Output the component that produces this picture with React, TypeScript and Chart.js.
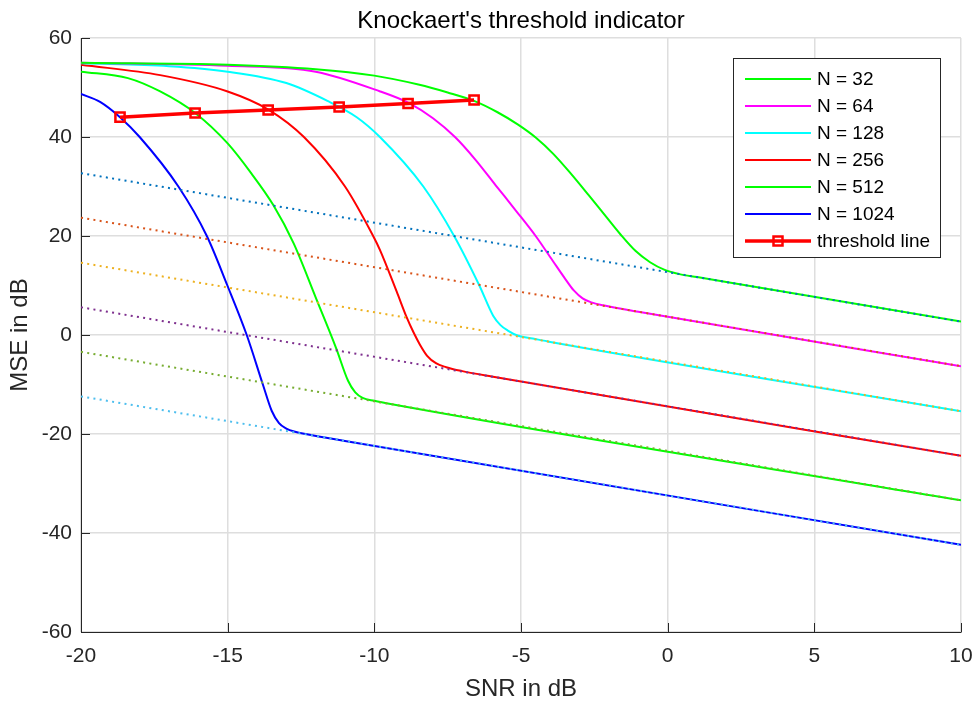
import React, { useEffect, useRef } from 'react';
import { Chart, registerables } from 'chart.js';

Chart.register(...registerables);

// ---------- text ----------
const TITLE = "Knockaert's threshold indicator";
const X_LABEL = 'SNR in dB';
const Y_LABEL = 'MSE in dB';
const X_TICKS = [-20, -15, -10, -5, 0, 5, 10];
const Y_TICKS = [-60, -40, -20, 0, 20, 40, 60];

// ---------- series (solid MSE curves) ----------
const seriesNames = ['N = 32', 'N = 64', 'N = 128', 'N = 256', 'N = 512', 'N = 1024'];
const seriesColors = ['#00ff00', '#ff00ff', '#00ffff', '#ff0000', '#00ff00', '#0000ff'];

const snr32 = [-20, -15, -12, -10, -8.5, -7.5, -6.6, -5.8, -5.1, -4.5, -3.9, -3.3, -2.7, -2.1, -1.62, -1.1, -0.6, -0.1, 0.4, 1.0, 2.0, 10];
const mse32 = [55.0, 54.6, 53.7, 52.4, 50.6, 49.0, 47.3, 45.0, 42.5, 39.9, 36.6, 32.6, 28.3, 23.9, 20.4, 17.0, 14.7, 13.15, 12.3, 11.7, 10.7, 2.7];

const snr64 = [-20, -15, -12, -9.8, -8.8, -8.0, -7.25, -6.55, -5.87, -5.17, -4.5, -3.92, -3.5, -3.2, -2.9, -2.6, -2.2, -1.0, 10];
const mse64 = [55.0, 54.4, 53.2, 49.2, 46.8, 43.8, 40.0, 35.4, 30.3, 25.1, 20.0, 15.0, 11.4, 9.0, 7.4, 6.6, 6.0, 4.7, -6.3];

const snr128 = [-20, -17, -15, -13, -11.6, -10.6, -9.81, -8.33, -7.28, -6.42, -5.95, -5.7, -5.45, -5.1, -4.6, -4.0, 10];
const mse128 = [54.9, 54.3, 53.2, 50.9, 47.3, 44.0, 40.0, 30.0, 20.0, 10.0, 3.9, 2.0, 0.9, -0.15, -0.72, -1.4, -15.4];

const snr256 = [-20, -17.3, -15.0, -13.6, -12.4, -11.0, -10.04, -9.81, -9.24, -8.9, -8.67, -8.45, -8.2, -7.9, -7.55, -7.0, -6.0, 10];
const mse256 = [54.6, 52.5, 49.2, 45.5, 40.0, 30.0, 20.0, 17.2, 8.8, 3.6, 0.6, -1.9, -4.2, -5.7, -6.5, -7.3, -8.4, -24.4];

const snr512 = [-20, -18.4, -17.3, -16.1, -15.0, -14.2, -13.45, -12.75, -12.0, -11.3, -10.9, -10.65, -10.4, -10.0, -9.4, 10];
const mse512 = [53.2, 51.9, 49.2, 44.8, 38.7, 32.7, 26.3, 18.5, 7.6, -2.7, -9.2, -11.6, -12.7, -13.3, -14.0, -33.4];

const snr1024 = [-20, -19.35, -18.67, -18.0, -16.68, -15.71, -15.01, -14.35, -13.8, -13.5, -13.25, -13.0, -12.7, -12.3, -11.0, 10];
const mse1024 = [48.7, 47.1, 44.0, 40.0, 30.0, 20.0, 10.0, 0.0, -10.0, -15.3, -17.8, -18.9, -19.55, -20.05, -21.4, -42.4];

const solidSnr = [snr32, snr64, snr128, snr256, snr512, snr1024];
const solidMse = [mse32, mse64, mse128, mse256, mse512, mse1024];

// ---------- dotted CRB lines ----------
const crbSnr = [-20, 10];
const crb32 = [32.7, 2.7];
const crb64 = [23.7, -6.3];
const crb128 = [14.6, -15.4];
const crb256 = [5.6, -24.4];
const crb512 = [-3.4, -33.4];
const crb1024 = [-12.4, -42.4];
const crbMse = [crb32, crb64, crb128, crb256, crb512, crb1024];
const crbColors = ['#0072BD', '#D95319', '#EDB120', '#7E2F8E', '#77AC30', '#4DBEEE'];

// ---------- threshold line ----------
const thresholdName = 'threshold line';
const thresholdSnr = [-18.67, -16.11, -13.62, -11.2, -8.85, -6.6];
const thresholdMse = [44.0, 44.85, 45.45, 46.06, 46.77, 47.47];

const FONT = "'Liberation Sans', Arial, Helvetica, sans-serif";
const AXIS_COLOR = '#262626';
const GRID_COLOR = '#dedede';

const toXY = (xs: number[], ys: number[]) => xs.map((x, i) => ({ x, y: ys[i] }));

const overlayPlugin = {
  id: 'overlay',
  afterDraw(chart: any) {
    const { ctx, chartArea, scales } = chart;
    const xs = scales.x;
    const ys = scales.y;
    ctx.save();
    // inward tick marks
    ctx.strokeStyle = AXIS_COLOR;
    ctx.lineWidth = 1;
    ctx.beginPath();
    X_TICKS.forEach((v) => {
      const px = Math.round(xs.getPixelForValue(v)) + 0.5;
      ctx.moveTo(px, chartArea.bottom);
      ctx.lineTo(px, chartArea.bottom - 9);
    });
    Y_TICKS.forEach((v) => {
      const py = Math.round(ys.getPixelForValue(v)) + 0.5;
      ctx.moveTo(chartArea.left, py);
      ctx.lineTo(chartArea.left + 9, py);
    });
    ctx.stroke();

    // title
    ctx.fillStyle = '#000';
    ctx.font = `24px ${FONT}`;
    ctx.textAlign = 'center';
    ctx.textBaseline = 'alphabetic';
    ctx.fillText(TITLE, (chartArea.left + chartArea.right) / 2, 28);

    // legend
    const bx = 733.5, by = 58.5, bw = 207, bh = 199;
    ctx.fillStyle = '#fff';
    ctx.fillRect(bx, by, bw, bh);
    ctx.strokeStyle = AXIS_COLOR;
    ctx.lineWidth = 1;
    ctx.strokeRect(bx, by, bw, bh);
    const names = [...seriesNames, thresholdName];
    const colors = [...seriesColors, '#ff0000'];
    ctx.font = `19px ${FONT}`;
    ctx.textAlign = 'left';
    ctx.textBaseline = 'middle';
    names.forEach((name, i) => {
      const y = 79 + i * 27;
      const isThr = i === names.length - 1;
      ctx.strokeStyle = colors[i];
      ctx.lineWidth = isThr ? 3.5 : 2;
      ctx.beginPath();
      ctx.moveTo(745, y);
      ctx.lineTo(811, y);
      ctx.stroke();
      if (isThr) {
        ctx.lineWidth = 2.5;
        ctx.strokeRect(778 - 4.5, y - 4.5, 9, 9);
      }
      ctx.fillStyle = '#000';
      ctx.fillText(name, 817, y + 1);
    });
    ctx.restore();
  },
};

export default function App() {
  const ref = useRef<HTMLCanvasElement>(null);

  useEffect(() => {
    const canvas = ref.current;
    if (!canvas) return;

    const solidSets = seriesNames.map((name, i) => ({
      label: name,
      data: toXY(solidSnr[i], solidMse[i]),
      borderColor: seriesColors[i],
      backgroundColor: seriesColors[i],
      borderWidth: 2,
      pointRadius: 0,
      cubicInterpolationMode: 'monotone' as const,
      fill: false,
      order: 3,
    }));
    const crbSets = crbMse.map((vals, i) => ({
      label: 'CRB ' + seriesNames[i],
      data: toXY(crbSnr, vals),
      borderColor: crbColors[i],
      backgroundColor: crbColors[i],
      borderWidth: 2,
      borderDash: [2, 4.3],
      pointRadius: 0,
      fill: false,
      order: 2,
    }));
    const thrSet = {
      label: thresholdName,
      data: toXY(thresholdSnr, thresholdMse),
      borderColor: '#ff0000',
      backgroundColor: 'rgba(0,0,0,0)',
      borderWidth: 3.5,
      pointStyle: 'rect',
      pointRadius: 6.5,
      pointBorderWidth: 2.5,
      pointBorderColor: '#ff0000',
      pointBackgroundColor: 'rgba(0,0,0,0)',
      fill: false,
      order: 1,
    };

    const tickFont = { family: FONT, size: 21 };
    const chart = new Chart(canvas, {
      type: 'line',
      data: { datasets: [...solidSets, ...crbSets, thrSet] as any },
      options: {
        animation: false,
        responsive: false,
        devicePixelRatio: 1,
        layout: { padding: { left: 0, right: 13, top: 38, bottom: 0 } },
        plugins: {
          legend: { display: false },
          tooltip: { enabled: false },
          title: { display: false },
        },
        scales: {
          x: {
            type: 'linear',
            min: -20,
            max: 10,
            afterBuildTicks: (s: any) => {
              s.ticks = X_TICKS.map((v) => ({ value: v }));
            },
            afterFit: (s: any) => {
              s.height = 69;
              s.paddingLeft = 0;
              s.paddingRight = 0;
            },
            grid: { color: GRID_COLOR, lineWidth: 1.5, drawTicks: false },
            border: { display: true, color: AXIS_COLOR, width: 1 },
            ticks: { font: tickFont, color: AXIS_COLOR, padding: 12, maxRotation: 0, autoSkip: false },
            title: {
              display: true,
              text: X_LABEL,
              color: AXIS_COLOR,
              font: { family: FONT, size: 24, lineHeight: 1 },
              padding: { top: 0, bottom: 0 },
            },
          },
          y: {
            type: 'linear',
            min: -60,
            max: 60,
            afterBuildTicks: (s: any) => {
              s.ticks = Y_TICKS.map((v) => ({ value: v }));
            },
            afterFit: (s: any) => {
              s.width = 81;
              s.paddingTop = 0;
              s.paddingBottom = 0;
            },
            grid: { color: GRID_COLOR, lineWidth: 1.5, drawTicks: false },
            border: { display: true, color: AXIS_COLOR, width: 1 },
            ticks: { font: tickFont, color: AXIS_COLOR, padding: 9, autoSkip: false },
            title: {
              display: true,
              text: Y_LABEL,
              color: AXIS_COLOR,
              font: { family: FONT, size: 24, lineHeight: 1 },
              padding: { top: 8, bottom: 0 },
            },
          },
        },
      },
      plugins: [overlayPlugin],
    });

    return () => chart.destroy();
  }, []);

  return (
    <div style={{ position: 'fixed', left: 0, top: 0, width: 974, height: 701, background: '#fff' }}>
      <canvas ref={ref} width={974} height={701} style={{ display: 'block' }} />
    </div>
  );
}
